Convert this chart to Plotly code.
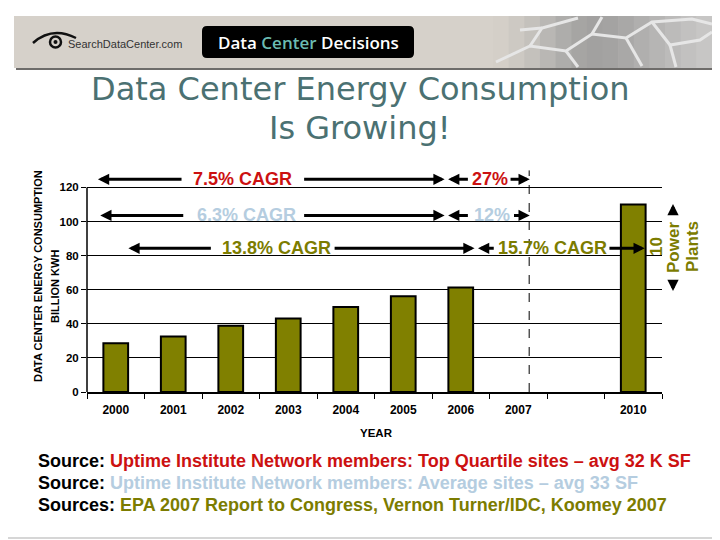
import plotly.graph_objects as go

# ---------------- data ----------------
years = ["2000", "2001", "2002", "2003", "2004", "2005", "2006", "2007", "2008-09", "2010"]
year_labels = ["2000", "2001", "2002", "2003", "2004", "2005", "2006", "2007", "", "2010"]
energy_bkwh = [28.6, 32.5, 38.8, 43.1, 49.8, 56.2, 61.3, None, None, 110.0]
y_ticks = [0, 20, 40, 60, 80, 100, 120]

cagr_labels = ["7.5% CAGR", "6.3% CAGR", "13.8% CAGR"]
later_labels = ["27%", "12%", "15.7% CAGR"]
row_levels = [124.8, 103.6, 84.3]
row_colors = ["#cc1111", "#b5cde0", "#7c7c00"]

source_heads = ["Source:", "Source:", "Sources:"]
source_texts = [
    "Uptime Institute Network members: Top Quartile sites – avg 32 K SF",
    "Uptime Institute Network members: Average sites – avg 33 SF",
    "EPA 2007 Report to Congress, Vernon Turner/IDC, Koomey 2007",
]

# ---------------- layout helpers ----------------
# page body has an 8px margin; work in screenshot pixel coordinates
OFF = 8
W, H = 720, 540
L, R, T, B = 87, 662, 167, 392


def px(x):
    return (x - L) / (R - L)


def py(y):
    return (B - y) / (B - T)


OLIVE = "#808000"
FONT = "Liberation Sans, Arial, sans-serif"

fig = go.Figure()
fig.add_trace(go.Bar(
    x=years, y=energy_bkwh,
    marker=dict(color=OLIVE, line=dict(color="black", width=2)),
    hoverinfo="skip",
))

shapes = []
annotations = []


def note(x, y, text, font, **kw):
    d = dict(xref="paper", yref="paper", x=px(x), y=py(y), text=text, showarrow=False,
             xanchor="center", yanchor="middle", font=font)
    d.update(kw)
    return d


# ---- banner ----
shapes.append(dict(type="rect", xref="paper", yref="paper", x0=px(16), x1=px(714), y0=py(70), y1=py(18),
                   fillcolor="#6e6c6a", line=dict(width=0), layer="below"))
shapes.append(dict(type="rect", xref="paper", yref="paper", x0=px(14), x1=px(712), y0=py(68), y1=py(16),
                   fillcolor="#d6d1ca", line=dict(width=0), layer="below"))
grad = ["#d4cfc8", "#cdc9c3", "#c4c1bc", "#b9b7b4", "#aeadab", "#a6a5a3", "#a2a1a0", "#a4a3a2",
        "#a9a8a7", "#b0afae", "#b6b5b4", "#bcbbba", "#c2c1c0", "#c7c6c5"]
x_start, x_end = 493, 712
step = (x_end - x_start) / len(grad)
for i, c in enumerate(grad):
    shapes.append(dict(type="rect", xref="paper", yref="paper",
                       x0=px(x_start + i * step), x1=px(x_start + (i + 1) * step + 0.5),
                       y0=py(68), y1=py(16), fillcolor=c, line=dict(width=0), layer="below"))


def ppath(points, close=False):
    s = "M " + " L ".join(f"{px(x):.5f},{py(y):.5f}" for x, y in points)
    return s + (" Z" if close else "")


mesh_lines = [
    [(496, 62), (530, 46), (566, 51), (592, 34), (626, 38), (652, 22), (692, 19), (712, 24)],
    [(530, 46), (542, 28), (578, 18)],
    [(566, 51), (578, 67)],
    [(626, 38), (642, 66)],
    [(592, 34), (602, 17)],
    [(652, 22), (670, 45), (700, 40), (712, 32)],
    [(670, 45), (676, 67)],
    [(520, 30), (542, 28)],
]
for ln in mesh_lines:
    shapes.append(dict(type="path", xref="paper", yref="paper", path=ppath(ln),
                       line=dict(color="#e6e6e6", width=3), layer="below"))

# black title box with rounded corners
bx0, bx1, by0, by1, r = 202, 414, 26, 58, 5
box = (f"M {px(bx0 + r)},{py(by0)} L {px(bx1 - r)},{py(by0)} Q {px(bx1)},{py(by0)} {px(bx1)},{py(by0 + r)} "
       f"L {px(bx1)},{py(by1 - r)} Q {px(bx1)},{py(by1)} {px(bx1 - r)},{py(by1)} "
       f"L {px(bx0 + r)},{py(by1)} Q {px(bx0)},{py(by1)} {px(bx0)},{py(by1 - r)} "
       f"L {px(bx0)},{py(by0 + r)} Q {px(bx0)},{py(by0)} {px(bx0 + r)},{py(by0)} Z")
shapes.append(dict(type="path", xref="paper", yref="paper", path=box, fillcolor="black",
                   line=dict(width=0), layer="below"))
annotations.append(note(308, 42, "Data <span style='color:#6cbcb2'>Center</span> Decisions",
                        dict(family="Open Sans, sans-serif", size=17, color="white", weight=600)))

# logo
shapes.append(dict(type="circle", xref="paper", yref="paper", x0=px(50), x1=px(61), y0=py(47.5), y1=py(36.5),
                   line=dict(color="#111111", width=2.5), layer="below"))
shapes.append(dict(type="circle", xref="paper", yref="paper", x0=px(53.5), x1=px(57.5), y0=py(44), y1=py(40),
                   fillcolor="#111111", line=dict(width=0), layer="below"))
shapes.append(dict(type="path", xref="paper", yref="paper",
                   path=f"M {px(33)},{py(43)} Q {px(52)},{py(26)} {px(76)},{py(38)}",
                   line=dict(color="#111111", width=2.5), layer="below"))
annotations.append(note(66, 44, "SearchDataCenter.com",
                        dict(family="Liberation Sans Narrow, Liberation Sans, sans-serif", size=11, color="#333333"),
                        xanchor="left"))

# ---- title ----
TITLE_C = "#4b7172"
annotations.append(note(360, 89, "Data Center Energy Consumption",
                        dict(family="DejaVu Sans, Verdana, sans-serif", size=32, color=TITLE_C)))
annotations.append(note(360, 128, "Is Growing!",
                        dict(family="DejaVu Sans, Verdana, sans-serif", size=32, color=TITLE_C)))

# ---- axis titles ----
annotations.append(note(38, 276, "DATA CENTER ENERGY CONSUMPTION",
                        dict(family=FONT, size=11, color="black", weight="bold"), textangle=-90))
annotations.append(note(55, 287, "BILLION KWH",
                        dict(family=FONT, size=11, color="black", weight="bold"), textangle=-90))
annotations.append(note(376, 433, "YEAR", dict(family=FONT, size=11.5, color="black", weight="bold")))

# left axis line (only up to 120) and dashed divider
shapes.append(dict(type="line", xref="x domain", yref="y", x0=0, x1=0, y0=0, y1=y_ticks[-1],
                   line=dict(color="black", width=1.5)))
shapes.append(dict(type="line", xref="x", yref="y", x0=7.19, x1=7.19, y0=0, y1=130,
                   line=dict(color="black", width=1, dash="dash")))

# ---- CAGR arrows ----
row_geom = [
    dict(a_tip=-0.31, a_tail=1.17, t1=2.21, b_tail=3.25, b_tip=5.72, c_tip=5.78, c_tail=6.15, t2=6.5, d_tail=6.84, d_tip=7.2),
    dict(a_tip=-0.27, a_tail=1.2, t1=2.27, b_tail=3.25, b_tip=5.72, c_tip=5.78, c_tail=6.15, t2=6.55, d_tail=6.9, d_tip=7.2),
    dict(a_tip=0.22, a_tail=1.68, t1=2.8, b_tail=3.78, b_tip=6.24, c_tip=6.3, c_tail=6.6, t2=7.59, d_tail=8.56, d_tip=9.2),
]


def arrow(tip, tail, y):
    return dict(x=tip, y=y, ax=tail, ay=y, xref="x", yref="y", axref="x", ayref="y", text="",
                showarrow=True, arrowhead=2, arrowsize=0.75, arrowwidth=3, arrowcolor="black",
                standoff=0, startstandoff=0)


for lab1, lab2, lev, col, g in zip(cagr_labels, later_labels, row_levels, row_colors, row_geom):
    annotations.append(arrow(g["a_tip"], g["a_tail"], lev))
    annotations.append(arrow(g["b_tip"], g["b_tail"], lev))
    annotations.append(arrow(g["c_tip"], g["c_tail"], lev))
    annotations.append(arrow(g["d_tip"], g["d_tail"], lev))
    annotations.append(dict(x=g["t1"], y=lev, xref="x", yref="y", text=lab1, showarrow=False,
                            xanchor="center", yanchor="middle",
                            font=dict(family=FONT, size=18, color=col, weight="bold")))
    annotations.append(dict(x=g["t2"], y=lev, xref="x", yref="y", text=lab2, showarrow=False,
                            xanchor="center", yanchor="middle",
                            font=dict(family=FONT, size=18, color=col, weight="bold")))

# ---- 10 Power Plants ----
for txt, xx, yy in [("10", 656, 247), ("Power", 673, 248), ("Plants", 692, 247)]:
    annotations.append(note(xx, yy, txt, dict(family=FONT, size=17, color="#7c7c00", weight="bold"),
                            textangle=-90))
annotations.append(dict(xref="paper", yref="paper", x=px(673), y=py(204), ax=0, ay=12, text="",
                        showarrow=True, arrowhead=2, arrowsize=0.75, arrowwidth=3, arrowcolor="black",
                        standoff=0, startstandoff=0))
annotations.append(dict(xref="paper", yref="paper", x=px(673), y=py(291), ax=0, ay=-12, text="",
                        showarrow=True, arrowhead=2, arrowsize=0.75, arrowwidth=3, arrowcolor="black",
                        standoff=0, startstandoff=0))

# ---- sources ----
for head, txt, col, yy in zip(source_heads, source_texts, row_colors, [461, 483, 505]):
    annotations.append(note(36, yy, f"<b>{head} <span style='color:{col}'>{txt}</span></b>",
                            dict(family=FONT, size=18, color="black"), xanchor="left"))

# bottom gray rule
shapes.append(dict(type="line", xref="paper", yref="paper", x0=px(0), x1=px(720), y0=py(538), y1=py(538),
                   line=dict(color="#c8c8c8", width=1.5)))

fig.update_layout(
    width=W - OFF, height=H - OFF, autosize=False,
    margin=dict(l=L - OFF, r=W - R, t=T - OFF, b=H - B, pad=0),
    paper_bgcolor="white", plot_bgcolor="white",
    showlegend=False, bargap=0.57,
    shapes=shapes, annotations=annotations,
    xaxis=dict(
        type="category", categoryorder="array", categoryarray=years,
        tickmode="array", tickvals=years, ticktext=year_labels,
        tickson="boundaries", ticks="outside", ticklen=5, tickcolor="black", tickwidth=1,
        ticklabelstandoff=6,
        showline=True, linecolor="black", linewidth=1.5, showgrid=False,
        range=[-0.5, len(years) - 0.5], fixedrange=True,
        tickfont=dict(family=FONT, size=12, color="black", weight="bold"),
    ),
    yaxis=dict(
        range=[0, 132], tickmode="array", tickvals=y_ticks,
        ticks="outside", ticklen=5, tickcolor="black",
        showgrid=True, gridcolor="black", gridwidth=1, zeroline=False,
        showline=False, fixedrange=True,
        tickfont=dict(family=FONT, size=11.5, color="black", weight="bold"),
    ),
)

fig.write_html("out.html")
